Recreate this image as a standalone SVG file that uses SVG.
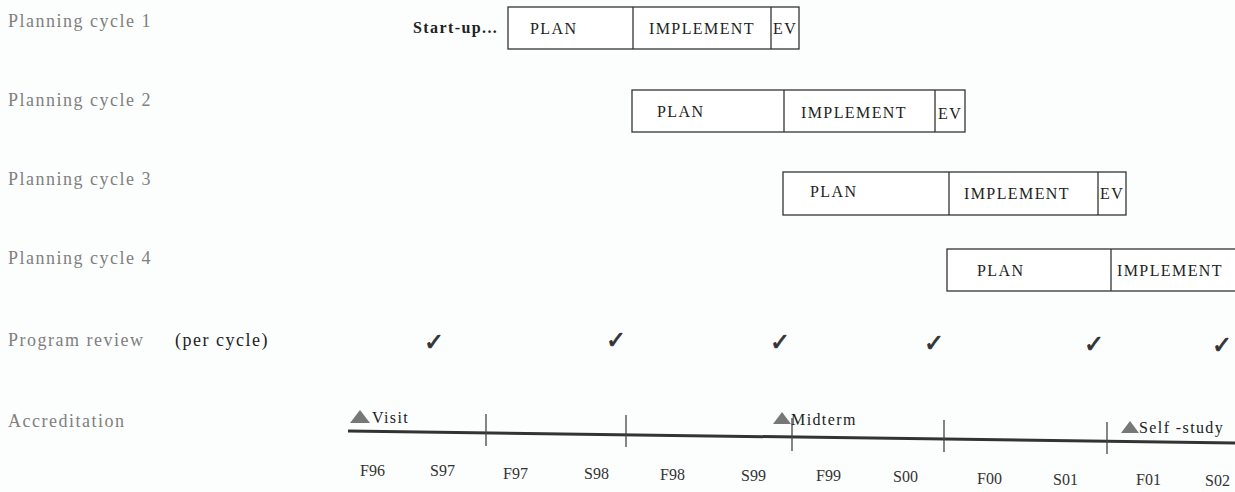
<svg xmlns="http://www.w3.org/2000/svg" width="1235" height="492" viewBox="0 0 1235 492">
<style>
.lbl{font-family:"Liberation Serif",serif;font-size:18px;fill:#808080;letter-spacing:1.5px}
.dark{fill:#222}
.bx{fill:#fff;stroke:#333;stroke-width:1.3}
.div{stroke:#333;stroke-width:1.3}
.t{font-family:"Liberation Serif",serif;font-size:16px;fill:#222;letter-spacing:1.4px}
.ax{font-family:"Liberation Serif",serif;font-size:16px;fill:#333}
.chk{font-family:"DejaVu Sans",sans-serif;font-size:24px;fill:#333;stroke:#333;stroke-width:0.8}
.tick{stroke:#444;stroke-width:1.3}
.tri{fill:#777}
</style>
<rect width="1235" height="492" fill="#fcfefe"/>
<g id="labels">
<text class="lbl" x="8" y="27">Planning cycle 1</text>
<text class="lbl" x="8" y="106">Planning cycle 2</text>
<text class="lbl" x="8" y="185">Planning cycle 3</text>
<text class="lbl" x="8" y="264">Planning cycle 4</text>
<text class="lbl" x="8" y="346" letter-spacing="2">Program review</text>
<text class="lbl dark" x="175" y="346" letter-spacing="1.2">(per cycle)</text>
<text class="lbl" x="8" y="427">Accreditation</text>
</g>
<g id="cycle1">
<text class="t" x="413" y="33" font-weight="bold" font-size="15" letter-spacing="0.6">Start-up...</text>
<rect class="bx" x="508" y="7" width="291" height="42"/>
<line class="div" x1="633" y1="7" x2="633" y2="49"/>
<line class="div" x1="771" y1="7" x2="771" y2="49"/>
<text class="t" x="530" y="34">PLAN</text>
<text class="t" x="649" y="34">IMPLEMENT</text>
<text class="t" x="773" y="34" letter-spacing="0">EV</text>
</g>
<g id="cycle2">
<rect class="bx" x="632" y="90" width="333" height="42"/>
<line class="div" x1="784" y1="90" x2="784" y2="132"/>
<line class="div" x1="935" y1="90" x2="935" y2="132"/>
<text class="t" x="657" y="117">PLAN</text>
<text class="t" x="801" y="118">IMPLEMENT</text>
<text class="t" x="938" y="119" letter-spacing="0">EV</text>
</g>
<g id="cycle3">
<rect class="bx" x="783" y="172" width="343" height="43"/>
<line class="div" x1="949" y1="172" x2="949" y2="215"/>
<line class="div" x1="1098" y1="172" x2="1098" y2="215"/>
<text class="t" x="810" y="197">PLAN</text>
<text class="t" x="964" y="199">IMPLEMENT</text>
<text class="t" x="1100" y="199" letter-spacing="0">EV</text>
</g>
<g id="cycle4">
<rect class="bx" x="947" y="249" width="300" height="42"/>
<line class="div" x1="1111" y1="249" x2="1111" y2="291"/>
<text class="t" x="977" y="276">PLAN</text>
<text class="t" x="1117" y="276" letter-spacing="0.8">IMPLEMENT</text>
</g>
<g id="review">
<text class="chk" x="424" y="350">✓</text>
<text class="chk" x="606" y="348">✓</text>
<text class="chk" x="770" y="350">✓</text>
<text class="chk" x="924" y="351">✓</text>
<text class="chk" x="1084" y="352">✓</text>
<text class="chk" x="1212" y="353">✓</text>
</g>
<g id="connectors">
<line x1="348" y1="431" x2="1235" y2="443" stroke="#333" stroke-width="3"/>
<line class="tick" x1="486" y1="414" x2="486" y2="446"/>
<line class="tick" x1="626" y1="415" x2="626" y2="447"/>
<line class="tick" x1="792" y1="418" x2="792" y2="451"/>
<line class="tick" x1="944" y1="420" x2="944" y2="452"/>
<line class="tick" x1="1107" y1="422" x2="1107" y2="454"/>
</g>
<g id="accreditation">
<polygon class="tri" points="350,423 360,410 370,423"/>
<text class="t" x="372" y="423" letter-spacing="0.5" font-size="15">Visit</text>
<polygon class="tri" points="773,424 782,412 791,424"/>
<text class="t" x="791" y="425" letter-spacing="0.5" font-size="15">Midterm</text>
<polygon class="tri" points="1121,433 1130,421 1139,433"/>
<text class="t" x="1139" y="433" letter-spacing="0.8" font-size="15">Self -study</text>
</g>
<g id="axis">
<text class="ax" x="360" y="476">F96</text>
<text class="ax" x="430" y="476">S97</text>
<text class="ax" x="503" y="479">F97</text>
<text class="ax" x="584" y="479">S98</text>
<text class="ax" x="660" y="480">F98</text>
<text class="ax" x="741" y="481">S99</text>
<text class="ax" x="816" y="481">F99</text>
<text class="ax" x="893" y="482">S00</text>
<text class="ax" x="977" y="484">F00</text>
<text class="ax" x="1053" y="485">S01</text>
<text class="ax" x="1136" y="485">F01</text>
<text class="ax" x="1205" y="486">S02</text>
</g>
</svg>
